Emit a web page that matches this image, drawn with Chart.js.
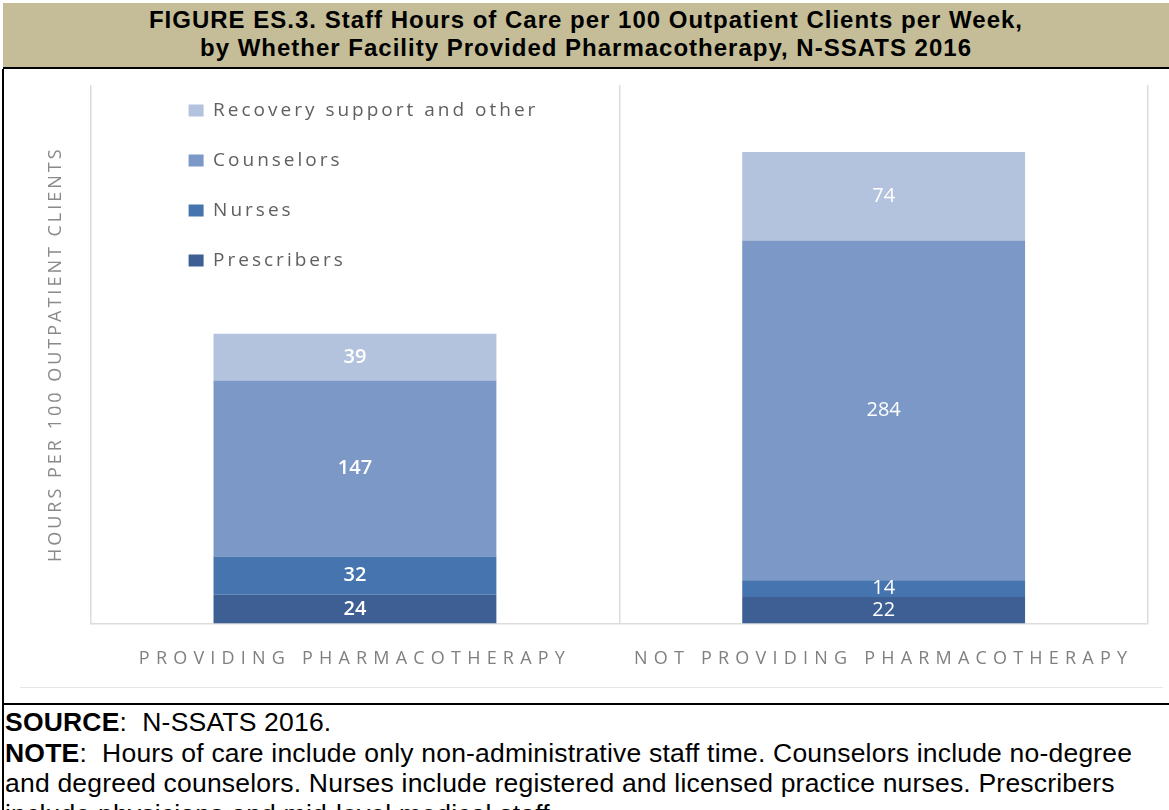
<!DOCTYPE html>
<html>
<head>
<meta charset="utf-8">
<title>Staff Hours of Care per 100 Outpatient Clients per Week</title>
<script src="https://cdn.jsdelivr.net/npm/chart.js@4.4.1/dist/chart.umd.min.js"></script>
<style>
  html, body { margin: 0; padding: 0; background: #fff; }
  body { width: 1169px; height: 810px; position: relative; overflow: hidden; }
  #head {
    position: absolute; left: 3px; top: 3px; width: 1166px; height: 66px;
    background: #c4bd97; border-bottom: 2px solid #000;
    font-family: Arial, "Liberation Sans", sans-serif;
    font-weight: bold; font-size: 24px; line-height: 28px; letter-spacing: 1px;
    text-align: center; padding-top: 3px; box-sizing: border-box; color: #000;
  }
  #leftRule { position: absolute; left: 2px; top: 69px; width: 2px; height: 741px; background: #000; }
  #midRule { position: absolute; left: 2px; top: 703px; width: 1167px; height: 2px; background: #000; }
  #chartBox { position: absolute; left: 4px; top: 71px; width: 1165px; height: 632px; }
  #chartEdge { position: absolute; left: 20px; top: 687px; width: 1143px; height: 1px; background: #e6e6e6; }
  #notes {
    position: absolute; left: 5px; top: 707px; width: 1160px;
    font-family: Arial, "Liberation Sans", sans-serif;
    font-size: 26.5px; line-height: 30.5px; letter-spacing: 0.2px; color: #000;
  }
</style>
</head>
<body>
<div id="head">FIGURE ES.3. Staff Hours of Care per 100 Outpatient Clients per Week,<br>by Whether Facility Provided Pharmacotherapy, N-SSATS 2016</div>
<div id="leftRule"></div>
<div id="chartBox"><canvas id="staffChart"></canvas></div>
<div id="chartEdge"></div>
<div id="midRule"></div>
<div id="notes">
  <b>SOURCE</b>:&nbsp; N-SSATS 2016.<br>
  <b>NOTE</b>:&nbsp; Hours of care include only non-administrative staff time. Counselors include no-degree and degreed counselors. Nurses include registered and licensed practice nurses. Prescribers include physicians and mid-level medical staff.
</div>
<script>
// facility groups
const categories = ['PROVIDING PHARMACOTHERAPY', 'NOT PROVIDING PHARMACOTHERAPY'];

// hours per 100 outpatient clients, stacked bottom to top
const prescribers = [24, 22];
const nurses = [32, 14];
const counselors = [147, 284];
const recoveryOther = [39, 74];

const seriesNames = ['Prescribers', 'Nurses', 'Counselors', 'Recovery support and other'];
const seriesColors = ['#3d5f93', '#4674ae', '#7b98c6', '#b3c2dd'];

// category axis whose labels are drawn with wide letter spacing
class SpacedCategoryScale extends Chart.CategoryScale {
  drawLabels(chartArea) {
    const ctx = this.ctx;
    ctx.save();
    ctx.letterSpacing = '6.2px';
    super.drawLabels(chartArea);
    ctx.restore();
  }
}
SpacedCategoryScale.id = 'spacedCategory';
SpacedCategoryScale.defaults = Chart.CategoryScale.defaults;
Chart.register(SpacedCategoryScale);

// legend and axis title share a slightly tracked-out text
const trackedText = {
  id: 'trackedText',
  beforeDraw(chart) { chart.ctx.letterSpacing = '3px'; },
  afterDraw(chart) { chart.ctx.letterSpacing = '0px'; }
};

// white value labels centred in every segment
const segmentLabels = {
  id: 'segmentLabels',
  afterDatasetsDraw(chart) {
    const ctx = chart.ctx;
    ctx.save();
    ctx.letterSpacing = '0px';
    ctx.fillStyle = '#ffffff';
    ctx.textAlign = 'center';
    ctx.textBaseline = 'middle';
    chart.data.datasets.forEach((ds, i) => {
      const meta = chart.getDatasetMeta(i);
      meta.data.forEach((bar, j) => {
        const { x, y, base } = bar.getProps(['x', 'y', 'base'], true);
        ctx.font = (j === 0 ? '600' : '400') + ' 20px "Open Sans", sans-serif';
        ctx.fillText(String(ds.data[j]), x, (y + base) / 2);
      });
    });
    ctx.restore();
  }
};

// move the legend block into the upper left of the plot
const legendNudge = {
  id: 'legendNudge',
  afterLayout(chart) {
    const lg = chart.legend;
    if (!lg) return;
    lg.left += 67;
    lg.right += 67;
    lg.top -= 1;
    lg.bottom -= 1;
  }
};

const datasets = [prescribers, nurses, counselors, recoveryOther].map((values, i) => ({
  label: seriesNames[i],
  data: values,
  backgroundColor: seriesColors[i],
  borderWidth: 0,
  categoryPercentage: 1,
  barPercentage: 0.535
}));

new Chart(document.getElementById('staffChart'), {
  type: 'bar',
  data: { labels: categories, datasets: datasets },
  options: {
    responsive: true,
    maintainAspectRatio: false,
    animation: false,
    layout: { padding: { top: 14, right: 21, bottom: 8, left: 37 } },
    scales: {
      x: {
        type: 'spacedCategory',
        stacked: true,
        grid: { display: true, offset: true, drawTicks: false, color: '#dcdcdc', lineWidth: 1.5 },
        border: { display: true, color: '#dcdcdc', width: 1.5 },
        ticks: {
          padding: 25,
          color: '#808080',
          font: { family: '"Open Sans", sans-serif', size: 18 }
        }
      },
      y: {
        stacked: true,
        min: 0,
        max: 450,
        grid: { display: false, drawTicks: false },
        border: { display: false },
        ticks: { display: false },
        title: {
          display: true,
          text: 'HOURS PER 100 OUTPATIENT CLIENTS',
          color: '#8a8a8a',
          padding: { top: 4, bottom: 24 },
          font: { family: '"Open Sans", sans-serif', size: 18 }
        }
      }
    },
    plugins: {
      legend: {
        position: 'chartArea',
        align: 'start',
        reverse: true,
        labels: {
          boxWidth: 15,
          boxHeight: 12,
          padding: 31,
          color: '#606060',
          font: { family: '"Open Sans", sans-serif', size: 19 }
        }
      },
      tooltip: { enabled: false }
    }
  },
  plugins: [trackedText, segmentLabels, legendNudge]
});
</script>
</body>
</html>
